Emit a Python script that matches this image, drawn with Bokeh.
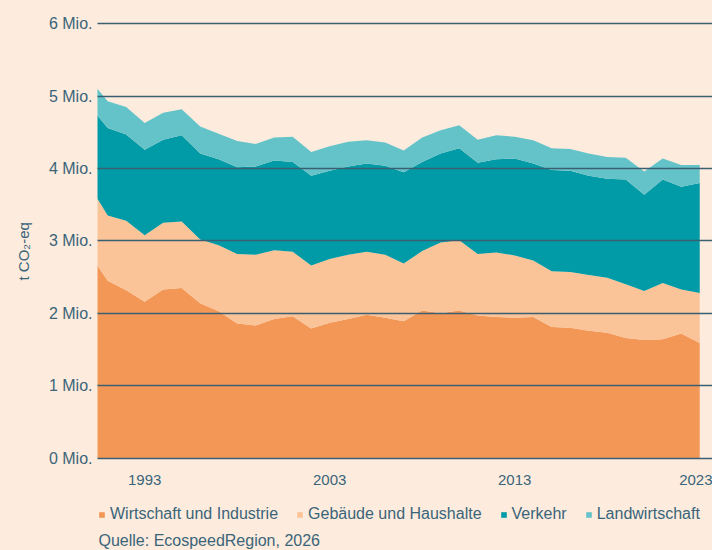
from bokeh.plotting import figure
from bokeh.layouts import column
from bokeh.models import (ColumnDataSource, FixedTicker, Legend, LegendItem,
                          Label, Range1d, Title)
from bokeh.core.properties import value
from bokeh.embed import file_html
from bokeh.resources import INLINE

# ---------------- data ----------------
years = list(range(1990, 2024))
wirtschaft = [2.83, 2.45, 2.32, 2.16, 2.33, 2.35, 2.14, 2.03, 1.86, 1.83,
              1.92, 1.96, 1.79, 1.87, 1.92, 1.98, 1.94, 1.89, 2.04, 2.00,
              2.04, 1.97, 1.95, 1.94, 1.95, 1.81, 1.80, 1.76, 1.73, 1.66,
              1.63, 1.64, 1.72, 1.59]
gebaeude = [0.94, 0.90, 0.96, 0.92, 0.92, 0.92, 0.88, 0.91, 0.96, 0.98,
            0.95, 0.89, 0.87, 0.88, 0.89, 0.87, 0.87, 0.80, 0.82, 0.98,
            0.97, 0.85, 0.89, 0.86, 0.78, 0.77, 0.77, 0.77, 0.76, 0.74,
            0.68, 0.78, 0.61, 0.69]
verkehr = [1.10, 1.21, 1.19, 1.18, 1.15, 1.19, 1.19, 1.19, 1.20, 1.22,
           1.24, 1.24, 1.24, 1.22, 1.22, 1.22, 1.23, 1.26, 1.23, 1.23,
           1.27, 1.26, 1.29, 1.34, 1.34, 1.40, 1.40, 1.37, 1.37, 1.45,
           1.33, 1.43, 1.42, 1.52]
landwirtschaft = [0.37, 0.37, 0.38, 0.37, 0.37, 0.36, 0.37, 0.35, 0.36, 0.31,
                  0.32, 0.35, 0.33, 0.34, 0.34, 0.32, 0.32, 0.30, 0.34, 0.32,
                  0.32, 0.32, 0.33, 0.30, 0.32, 0.30, 0.30, 0.31, 0.30, 0.30,
                  0.32, 0.29, 0.30, 0.25]
series_names = ["Wirtschaft und Industrie", "Gebäude und Haushalte",
                "Verkehr", "Landwirtschaft"]
x_ticks = [1993, 2003, 2013, 2023]
y_ticks = [0, 1, 2, 3, 4, 5, 6]
y_tick_labels = ["0 Mio.", "1 Mio.", "2 Mio.", "3 Mio.", "4 Mio.", "5 Mio.", "6 Mio."]
y_title = "t CO\u2082-eq"
source_note = "Quelle: EcospeedRegion, 2026"

# ---------------- style ----------------
BG = "#fdecde"
TEXT = "#3a6479"
GRID = "#3a5f72"
COLORS = ["#f39757", "#fac398", "#009ba6", "#64c3c8"]
FONT = "Liberation Sans"

src = ColumnDataSource(dict(year=years, w=wirtschaft, g=gebaeude,
                            v=verkehr, l=landwirtschaft))

# ---------------- main chart ----------------
p = figure(width=712, height=495, x_range=(1990.45, 2023.69), y_range=(-0.02, 6.06),
           output_backend="svg", toolbar_location=None,
           min_border_left=97, min_border_right=0, min_border_top=19,
           min_border_bottom=36, background_fill_color=None,
           border_fill_color=BG, outline_line_color=None)

p.varea_stack(["w", "g", "v", "l"], x="year", color=COLORS, source=src)

p.yaxis.ticker = FixedTicker(ticks=y_ticks)
p.yaxis.major_label_overrides = {t: lab for t, lab in zip(y_ticks, y_tick_labels)}
p.xaxis.ticker = FixedTicker(ticks=x_ticks)
for ax in (p.xaxis[0], p.yaxis[0]):
    ax.axis_line_color = None
    ax.major_tick_line_color = None
    ax.minor_tick_line_color = None
    ax.major_tick_out = 0
    ax.major_tick_in = 0
    ax.major_label_text_color = TEXT
    ax.major_label_text_font = FONT
p.yaxis.major_label_text_font_size = "16px"
p.yaxis.major_label_standoff = 5
p.xaxis.major_label_text_font_size = "15px"
p.xaxis.major_label_standoff = 15

# y-axis title, placed a little below the frame centre as in the original
p.add_layout(Title(text=y_title, align="left", offset=179,
                   vertical_align="middle", standoff=25,
                   text_font=FONT, text_font_size="15px",
                   text_font_style="normal", text_color=TEXT), "left")

p.xgrid.visible = False
p.ygrid.ticker = FixedTicker(ticks=y_ticks)
p.ygrid.grid_line_color = GRID
p.ygrid.grid_line_width = 1.4
p.ygrid.level = "overlay"

# ---------------- legend + source strip ----------------
p2 = figure(width=712, height=55, x_range=Range1d(0, 1), y_range=Range1d(0, 1),
            output_backend="svg", toolbar_location=None,
            min_border_left=0, min_border_right=0, min_border_top=0,
            min_border_bottom=0, background_fill_color=None,
            border_fill_color=BG, outline_line_color=None)
p2.axis.visible = False
p2.grid.visible = False
# same series, outside this strip's visible range: only used for the legend swatches
swatches = p2.varea_stack(["w", "g", "v", "l"], x="year", color=COLORS, source=src)

legend = Legend(items=[LegendItem(label=value(n), renderers=[r])
                       for r, n in zip(swatches, series_names)],
                location=(1, 26), orientation="horizontal",
                padding=0, margin=0, spacing=18,
                border_line_color=None, background_fill_alpha=0,
                glyph_width=7, glyph_height=7, label_standoff=5,
                label_height=20, label_text_font_size="16px",
                label_text_color=TEXT, label_text_font=FONT)
p2.add_layout(legend)

p2.add_layout(Label(x=1, y=10, x_units="screen", y_units="screen",
                    text=source_note, text_align="left",
                    text_baseline="alphabetic", text_font_size="16px",
                    text_color=TEXT, text_font=FONT))

layout = column(p, p2, spacing=0, styles={"background-color": BG})
open("out.html", "w").write(file_html(layout, INLINE))
